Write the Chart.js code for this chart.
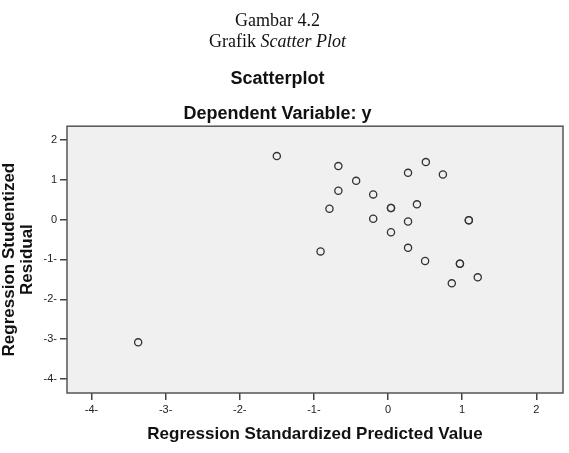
<!DOCTYPE html>
<html>
<head>
<meta charset="utf-8">
<script src="https://cdn.jsdelivr.net/npm/chart.js@4.4.1/dist/chart.umd.min.js"></script>
<style>
    html, body { margin: 0; padding: 0; background: #ffffff; }
    #wrap { position: relative; width: 569px; height: 453px; }
    #caption {
        position: absolute; left: 0; top: 10px; width: 555px;
        text-align: center; color: #111;
        font-family: 'Liberation Serif', 'Times New Roman', serif;
        font-size: 18px; line-height: 21px;
    }
</style>
</head>
<body>
<div id="wrap">
    <canvas id="scatter" width="569" height="453"></canvas>
    <div id="caption">Gambar 4.2<br>Grafik <i>Scatter Plot</i></div>
</div>
<script>
// values (bold circles are two overlapping cases)
const predictedValues = [
    -3.37, -1.50, -0.67, 0.51, 0.27, 0.74, -0.43, -0.67, -0.20, -0.79,
    0.04, 0.04, 0.39, -0.20, 0.27, 1.09, 1.09, 0.04, -0.91, 0.27,
    0.50, 0.97, 0.97, 1.21, 0.86
];
const studentizedResiduals = [
    -3.08, 1.59, 1.34, 1.44, 1.17, 1.13, 0.97, 0.72, 0.63, 0.27,
    0.29, 0.29, 0.38, 0.02, -0.05, -0.02, -0.02, -0.32, -0.80, -0.71,
    -1.04, -1.11, -1.11, -1.45, -1.60
];
const xTicks = [-4, -3, -2, -1, 0, 1, 2];
const yTicks = [2, 1, 0, -1, -2, -3, -4];
const xTickLabels = { '-4': '-4-', '-3': '-3-', '-2': '-2-', '-1': '-1-', '0': '0', '1': '1', '2': '2' };
const yTickLabels = { '2': '2', '1': '1', '0': '0', '-1': '-1-', '-2': '-2-', '-3': '-3-', '-4': '-4-' };

const points = predictedValues.map((x, i) => ({ x: x, y: studentizedResiduals[i] }));

const FONT = "'Liberation Sans', Arial, sans-serif";

// grey plot panel with a dark frame
const plotPanel = {
    id: 'plotPanel',
    beforeDatasetsDraw(chart) {
        const { ctx, chartArea: a } = chart;
        ctx.save();
        ctx.fillStyle = '#f0f0f0';
        ctx.fillRect(a.left, a.top, a.right - a.left, a.bottom - a.top);
        ctx.strokeStyle = '#555555';
        ctx.lineWidth = 1.5;
        ctx.strokeRect(a.left, a.top, a.right - a.left, a.bottom - a.top);
        ctx.restore();
    }
};

new Chart(document.getElementById('scatter').getContext('2d'), {
    type: 'scatter',
    data: {
        datasets: [{
            data: points,
            pointStyle: 'circle',
            pointRadius: 3.6,
            pointHoverRadius: 3.6,
            borderWidth: 1.3,
            borderColor: '#333333',
            backgroundColor: 'rgba(0,0,0,0)'
        }]
    },
    options: {
        responsive: false,
        animation: false,
        layout: { padding: { top: 55, left: -8, right: 6, bottom: 0 } },
        plugins: {
            legend: { display: false },
            tooltip: { enabled: false },
            title: {
                display: true,
                text: 'Scatterplot',
                color: '#111',
                font: { family: FONT, size: 18, weight: 'bold', lineHeight: 1.2 },
                padding: { top: 13, bottom: 6 }
            },
            subtitle: {
                display: true,
                text: 'Dependent Variable: y',
                color: '#111',
                font: { family: FONT, size: 18, weight: 'bold', lineHeight: 1.2 },
                padding: { top: 8, bottom: 1 }
            }
        },
        scales: {
            x: {
                type: 'linear',
                min: -4.33,
                max: 2.36,
                afterBuildTicks: (s) => { s.ticks = xTicks.map(v => ({ value: v })); },
                afterFit: (s) => { s.height = 60; },
                border: { display: false },
                grid: { drawOnChartArea: false, drawTicks: true, tickLength: 7, color: '#444', lineWidth: 1.5 },
                ticks: {
                    color: '#222',
                    padding: 3,
                    maxRotation: 0,
                    font: { family: FONT, size: 11 },
                    callback: (v) => xTickLabels[String(v)]
                },
                title: {
                    display: true,
                    text: 'Regression Standardized Predicted Value',
                    color: '#111',
                    font: { family: FONT, size: 17, weight: 'bold', lineHeight: 1.2 },
                    padding: { top: 0, bottom: 8 }
                }
            },
            y: {
                type: 'linear',
                min: -4.35,
                max: 2.34,
                afterBuildTicks: (s) => { s.ticks = yTicks.map(v => ({ value: v })); },
                afterFit: (s) => { s.width = 75; },
                border: { display: false },
                grid: { drawOnChartArea: false, drawTicks: true, tickLength: 7, color: '#444', lineWidth: 1.5 },
                ticks: {
                    color: '#222',
                    padding: 3,
                    font: { family: FONT, size: 11 },
                    callback: (v) => yTickLabels[String(v)]
                },
                title: {
                    display: true,
                    text: ['Regression Studentized', 'Residual'],
                    color: '#111',
                    font: { family: FONT, size: 17, weight: 'bold', lineHeight: 1.05 },
                    padding: { top: 8.6, bottom: 0 }
                }
            }
        }
    },
    plugins: [plotPanel]
});
</script>
</body>
</html>
